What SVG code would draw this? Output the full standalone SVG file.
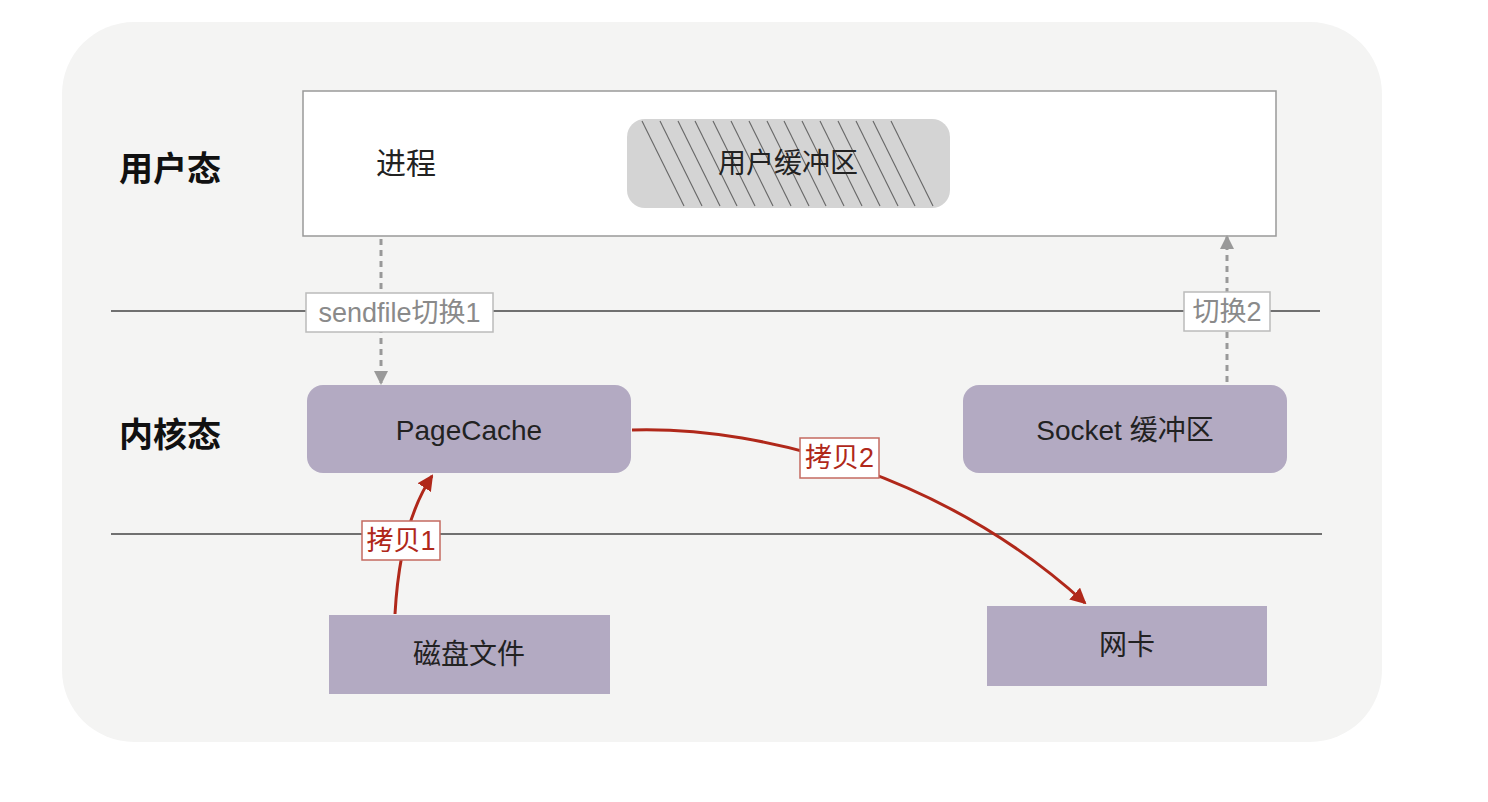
<svg xmlns="http://www.w3.org/2000/svg" width="1488" height="802" viewBox="0 0 1488 802">
<style>
.lbl{font-family:"Noto Sans CJK SC","Noto Sans",sans-serif;font-weight:bold;font-size:34px;fill:#111;dominant-baseline:central}
.t{font-family:"Liberation Sans","Noto Sans CJK SC",sans-serif;font-size:28px;fill:#222;text-anchor:middle;dominant-baseline:central}
.node{fill:#b3aac2}
.sep{stroke:#444;stroke-width:1.3}
.dash{stroke:#999;stroke-width:3;stroke-dasharray:6 5;fill:none}
.red{stroke:#b0281a;stroke-width:3;fill:none}
.gtag{fill:#fff;stroke:#bbb;stroke-width:1.5}
.rtag{fill:#fff;stroke:#c46a60;stroke-width:1.5}
.gt{font-family:"Liberation Sans","Noto Sans CJK SC",sans-serif;font-size:27px;fill:#8a8a8a;text-anchor:middle;dominant-baseline:central}
.rt{font-family:"Liberation Sans","Noto Sans CJK SC",sans-serif;font-size:27px;fill:#b0281a;text-anchor:middle;dominant-baseline:central}
.h{stroke:#666;stroke-width:1.1}
</style>
<defs>
<marker id="ag" markerWidth="14" markerHeight="14" refX="12" refY="7" orient="auto" markerUnits="userSpaceOnUse" viewBox="0 0 14 14"><path d="M0,0 L14,7 L0,14 z" fill="#999"/></marker>
<marker id="ar" markerWidth="16" markerHeight="16" refX="14" refY="8" orient="auto" markerUnits="userSpaceOnUse" viewBox="0 0 16 16"><path d="M0,0 L16,8 L0,16 z" fill="#b0281a"/></marker>
<clipPath id="bufclip"><rect x="627" y="119" width="323" height="89" rx="18"/></clipPath>
</defs>
<rect width="1488" height="802" fill="#ffffff"/>
<rect x="62" y="22" width="1320" height="720" rx="72" fill="#f4f4f3"/>

<g id="separators">
<line class="sep" x1="111" y1="311" x2="1320" y2="311"/>
<line class="sep" x1="111" y1="534" x2="1322" y2="534"/>
</g>

<text class="lbl" x="119" y="166">用户态</text>
<text class="lbl" x="119" y="432">内核态</text>

<g id="user-space">
<rect x="303" y="91" width="973" height="145" fill="#fff" stroke="#999" stroke-width="1.5"/>
<text class="t" x="406" y="163" style="font-size:30px">进程</text>
</g>
<g id="user-buffer">
<rect x="627" y="119" width="323" height="89" rx="18" fill="#d4d4d4"/>
<g clip-path="url(#bufclip)">
<line class="h" x1="642" y1="121" x2="684" y2="206"/>
<line class="h" x1="660" y1="121" x2="702" y2="206"/>
<line class="h" x1="678" y1="121" x2="720" y2="206"/>
<line class="h" x1="695" y1="121" x2="737" y2="206"/>
<line class="h" x1="713" y1="121" x2="755" y2="206"/>
<line class="h" x1="731" y1="121" x2="773" y2="206"/>
<line class="h" x1="749" y1="121" x2="791" y2="206"/>
<line class="h" x1="767" y1="121" x2="809" y2="206"/>
<line class="h" x1="784" y1="121" x2="826" y2="206"/>
<line class="h" x1="802" y1="121" x2="844" y2="206"/>
<line class="h" x1="820" y1="121" x2="862" y2="206"/>
<line class="h" x1="838" y1="121" x2="880" y2="206"/>
<line class="h" x1="856" y1="121" x2="898" y2="206"/>
<line class="h" x1="873" y1="121" x2="915" y2="206"/>
<line class="h" x1="891" y1="121" x2="933" y2="206"/>
</g>
<text class="t" x="788" y="163">用户缓冲区</text>
</g>
<g id="pagecache">
<rect class="node" x="307" y="385" width="324" height="88" rx="16"/>
<text class="t" x="469" y="430">PageCache</text>
</g>
<g id="socket-buffer">
<rect class="node" x="963" y="385" width="324" height="88" rx="16"/>
<text class="t" x="1125" y="430">Socket 缓冲区</text>
</g>
<g id="disk">
<rect class="node" x="329" y="615" width="281" height="79"/>
<text class="t" x="469" y="654">磁盘文件</text>
</g>
<g id="nic">
<rect class="node" x="987" y="606" width="280" height="80"/>
<text class="t" x="1127" y="645">网卡</text>
</g>

<g id="connectors">
<line class="dash" x1="381" y1="239" x2="381" y2="383" marker-end="url(#ag)"/>
<line class="dash" x1="1227" y1="382" x2="1227" y2="237" marker-end="url(#ag)"/>
<path class="red" d="M395,614 C398,560 408,512 432,476" marker-end="url(#ar)"/>
<path class="red" d="M632,430 C770,426 950,480 1085,603" marker-end="url(#ar)"/>
<rect class="gtag" x="306" y="293" width="187" height="39"/>
<text class="gt" x="399.5" y="313">sendfile切换1</text>
<rect class="gtag" x="1184" y="292" width="86" height="39"/>
<text class="gt" x="1227" y="312">切换2</text>
<rect class="rtag" x="362" y="521" width="78" height="39"/>
<text class="rt" x="401" y="541">拷贝1</text>
<rect class="rtag" x="800" y="438" width="79" height="40"/>
<text class="rt" x="839.5" y="458">拷贝2</text>
</g>
</svg>
